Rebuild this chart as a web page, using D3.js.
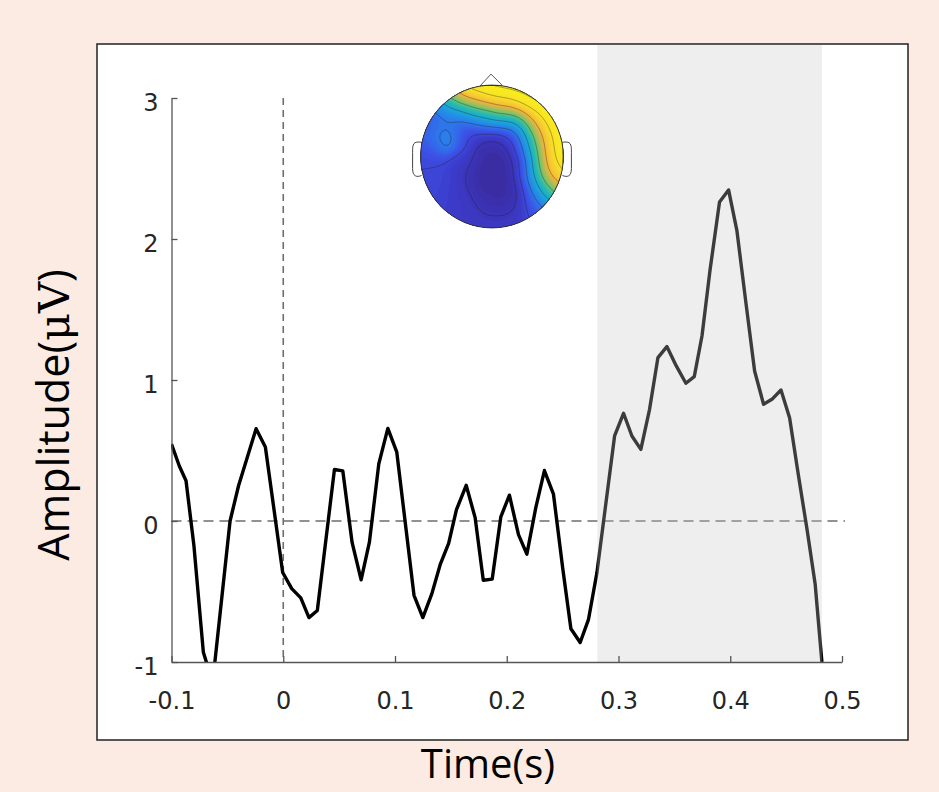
<!DOCTYPE html>
<html>
<head>
  <meta charset="utf-8">
  <title>ERP waveform</title>
  <script src="https://d3js.org/d3.v7.min.js"></script>
  <style>
    body { margin: 0; background: #fcebe3; }
  </style>
</head>
<body>

  <svg width="939" height="792"></svg>

  <script>

    // Waveform (time in s, amplitude in microvolts)
    const times = [
      -0.100, -0.093, -0.087, -0.080, -0.0715, -0.0665, -0.062, -0.0476, -0.040, -0.0243,
      -0.016, -0.0005, 0.0076, 0.0157, 0.023, 0.0305, 0.0458, 0.0533, 0.0616, 0.0697,
      0.0771, 0.0855, 0.0936, 0.1016, 0.117, 0.1249, 0.133, 0.1404, 0.148, 0.155,
      0.1637, 0.1717, 0.179, 0.187, 0.1947, 0.2024, 0.2105, 0.218, 0.226, 0.2337,
      0.2418, 0.250, 0.2574, 0.2657, 0.2731, 0.2807, 0.2965, 0.3045, 0.312, 0.320,
      0.3278, 0.3353, 0.3433, 0.3517, 0.3603, 0.3678, 0.3747, 0.382, 0.3904, 0.3985,
      0.406, 0.414, 0.4218, 0.4298, 0.4373, 0.4454, 0.4531, 0.4611, 0.4687, 0.476,
      0.482
    ];
    const amplitude = [
      0.545, 0.39, 0.285, -0.17, -0.93, -1.06, -1.06, 0.0, 0.25, 0.655,
      0.525, -0.365, -0.48, -0.545, -0.685, -0.635, 0.365, 0.355, -0.152, -0.417,
      -0.15, 0.405, 0.657, 0.488, -0.527, -0.685, -0.515, -0.31, -0.158, 0.08,
      0.253, 0.024, -0.42, -0.412, 0.03, 0.183, -0.097, -0.235, 0.095, 0.358,
      0.19, -0.33, -0.764, -0.862, -0.70, -0.366, 0.603, 0.764, 0.603, 0.508,
      0.792, 1.159, 1.237, 1.10, 0.977, 1.024, 1.312, 1.785, 2.262, 2.348,
      2.057, 1.549, 1.064, 0.828, 0.863, 0.929, 0.733, 0.319, -0.059, -0.449,
      -1.0
    ];

    const xTicks = [-0.1, 0, 0.1, 0.2, 0.3, 0.4, 0.5];
    const xTickLabels = ["-0.1", "0", "0.1", "0.2", "0.3", "0.4", "0.5"];
    const yTicks = [-1, 0, 1, 2, 3];
    const yTickLabels = ["-1", "0", "1", "2", "3"];
    const shadeWindow = [0.281, 0.482];

    // Topography inset: sample points on a unit head (x right, y down) and relative amplitude 0..1
    const elecX = [
      -0.3, 0, 0.3, 0.55, 0.75, 0.9, 0.95, 0.95, 0.05, 0.4, 0.7, 0.82, 0.88,
      -0.45, -0.15, 0.2, 0.55, 0.7, 0.76, 0.85, 0.95,
      -0.6, -0.3, 0, 0.3, 0.55, 0.62, 0.68, 0.78, 0.85,
      -0.75, -0.45, -0.1, 0.25, 0.45, 0.52, 0.58, 0.65, 0.6,
      -0.6, -0.85,
      -0.95, -0.75, -0.85, -0.6,
      -0.35, -0.4, -0.45, -0.3, 0, 0.3,
      0, 0.25, 0.3, 0, -0.15, 0.2, 0, 0.35
    ];
    const elecY = [
      -0.93, -0.97, -0.92, -0.8, -0.6, -0.35, -0.05, 0.2, -0.82, -0.75, -0.4, -0.1, 0.15,
      -0.85, -0.75, -0.66, -0.5, -0.25, 0.05, 0.3, 0.32,
      -0.72, -0.65, -0.6, -0.55, -0.35, -0.1, 0.2, 0.45, 0.5,
      -0.55, -0.55, -0.5, -0.45, -0.25, 0.05, 0.35, 0.6, 0.75,
      -0.28, -0.2,
      0.05, 0.3, 0.5, 0.7,
      -0.3, 0.1, 0.45, 0.8, 0.95, 0.9,
      -0.2, -0.25, 0.1, 0.1, 0.3, 0.45, 0.6, 0.6
    ];
    const elecV = [
      1.0, 1.0, 1.0, 1.0, 1.0, 1.0, 1.0, 1.0, 0.95, 0.95, 0.95, 0.95, 0.92,
      0.8, 0.82, 0.82, 0.8, 0.8, 0.8, 0.8, 0.85,
      0.5, 0.5, 0.55, 0.55, 0.5, 0.5, 0.5, 0.55, 0.5,
      0.2, 0.18, 0.17, 0.17, 0.18, 0.18, 0.2, 0.28, 0.18,
      0.42, 0.24,
      0.16, 0.15, 0.15, 0.12,
      0.1, 0.1, 0.09, 0.09, 0.09, 0.09,
      0.02, 0.03, 0.0, 0.0, 0.0, 0.0, 0.02, 0.03
    ];

    const svg = d3.select("svg");

    // Frame
    svg.append("rect")
      .attr("x", 97).attr("y", 44)
      .attr("width", 811).attr("height", 696)
      .attr("fill", "#fff")
      .attr("stroke", "#222")
      .attr("stroke-width", 1.5);

    // Scales
    const x = d3.scaleLinear().domain([-0.1, 0.5]).range([171.5, 842]);
    const y = d3.scaleLinear().domain([-1, 3]).range([662, 98]);

    svg.append("clipPath").attr("id", "plotclip")
      .append("rect")
      .attr("x", 171).attr("y", 44)
      .attr("width", 680).attr("height", 618);

    // Reference lines
    svg.append("line")
      .attr("x1", x(-0.1)).attr("x2", 845)
      .attr("y1", y(0)).attr("y2", y(0))
      .attr("stroke", "#6e6e6e").attr("stroke-width", 1.6)
      .attr("stroke-dasharray", "10,6");

    svg.append("line")
      .attr("x1", x(0)).attr("x2", x(0))
      .attr("y1", y(3)).attr("y2", y(-1))
      .attr("stroke", "#6e6e6e").attr("stroke-width", 1.6)
      .attr("stroke-dasharray", "7,5");

    // Waveform
    const line = d3.line()
      .x((d, i) => x(times[i]))
      .y(d => y(d));

    svg.append("path")
      .datum(amplitude)
      .attr("clip-path", "url(#plotclip)")
      .attr("fill", "none")
      .attr("stroke", "#000")
      .attr("stroke-width", 3.4)
      .attr("stroke-linejoin", "round")
      .attr("d", line);

    // Shaded analysis window, translucent, drawn over the trace
    svg.append("rect")
      .attr("x", x(shadeWindow[0]))
      .attr("y", 45)
      .attr("width", x(shadeWindow[1]) - x(shadeWindow[0]))
      .attr("height", y(-1) - 45)
      .attr("fill", "#c8c8c8")
      .attr("fill-opacity", 0.3);

    // Axes
    const xAxis = d3.axisBottom(x)
      .tickValues(xTicks)
      .tickFormat((d, i) => xTickLabels[i])
      .tickSizeInner(-6)
      .tickSizeOuter(0)
      .tickPadding(30);

    const yAxis = d3.axisLeft(y)
      .tickValues(yTicks)
      .tickFormat((d, i) => yTickLabels[i])
      .tickSizeInner(-6)
      .tickSizeOuter(0)
      .tickPadding(13);

    const gx = svg.append("g")
      .attr("transform", `translate(0,${y(-1)})`)
      .call(xAxis);
    const gy = svg.append("g")
      .attr("transform", `translate(${x(-0.1)},0)`)
      .call(yAxis);

    [gx, gy].forEach(g => {
      g.select(".domain").attr("stroke", "#555").attr("stroke-width", 1.3);
      g.selectAll(".tick line").attr("stroke", "#555").attr("stroke-width", 1.3);
      g.selectAll(".tick text")
        .attr("fill", "#262626")
        .style("font-family", "'DejaVu Sans'")
        .style("font-size", "24px");
    });
    gy.selectAll(".tick text").attr("dy", "0.5em");

    // Axis titles
    const ylab = svg.append("text")
      .attr("transform", "translate(69,415) rotate(-90)")
      .attr("text-anchor", "middle")
      .attr("fill", "#000")
      .style("font-family", "'Open Sans'")
      .style("font-size", "43px");
    ylab.append("tspan").text("Amplitude(");
    ylab.append("tspan").style("font-family", "'DejaVu Serif'").text("\u03bcV");
    ylab.append("tspan").text(")");

    svg.append("text")
      .attr("x", 488).attr("y", 778)
      .attr("text-anchor", "middle")
      .attr("fill", "#000")
      .style("font-family", "'Open Sans'")
      .style("font-size", "40px")
      .text("Time(s)");

    // Topography inset
    const cx = 492, cy = 156.5, r = 71.4;
    const head = svg.append("g");

    // nose and ears
    head.append("path")
      .attr("d", `M${cx - 13},${cy - r + 2} L${cx - 1},${cy - r - 11} L${cx + 12},${cy - r + 2}`)
      .attr("fill", "#fff").attr("stroke", "#555").attr("stroke-width", 1);
    [-1, 1].forEach(s => {
      const ex = cx + s * r;
      head.append("path")
        .attr("d", `M${ex - s * 2},${cy - 14} C${ex + s * 8},${cy - 16} ${ex + s * 8},${cy - 12} ${ex + s * 8},${cy - 4}
                    L${ex + s * 8},${cy + 12} C${ex + s * 8},${cy + 20} ${ex + s * 4},${cy + 21} ${ex - s * 1},${cy + 19}`)
        .attr("fill", "#fff").attr("stroke", "#444").attr("stroke-width", 1);
    });

    // gridded field from the sample points (gaussian-weighted average)
    const n = 90, sigma = 0.16;
    const grid = new Array(n * n);
    for (let j = 0; j < n; j++) {
      for (let i = 0; i < n; i++) {
        const px = (i + 0.5) / n * 2 - 1;
        const py = (j + 0.5) / n * 2 - 1;
        let wsum = 0, vsum = 0;
        for (let k = 0; k < elecV.length; k++) {
          const d2 = (px - elecX[k]) ** 2 + (py - elecY[k]) ** 2;
          const w = Math.exp(-d2 / (2 * sigma * sigma)) + 1e-12;
          wsum += w; vsum += w * elecV[k];
        }
        grid[j * n + i] = vsum / wsum;
      }
    }

    const parula = d3.scaleLinear()
      .domain([0, 0.1, 0.2, 0.3, 0.42, 0.52, 0.62, 0.74, 0.86, 1])
      .range(["#3a2b9f", "#3c39c6", "#3d50e6", "#2c79ec", "#1ca3dc", "#22b9b6", "#72c46c", "#f2b33c", "#f8df28", "#faf514"])
      .clamp(true);

    svg.append("clipPath").attr("id", "headclip")
      .append("circle").attr("cx", cx).attr("cy", cy).attr("r", r);

    const proj = d3.geoPath(d3.geoIdentity().scale(2 * r / n).translate([cx - r, cy - r]));
    const fillLevels = d3.range(0, 1.001, 0.02);
    const lineLevels = [0.07, 0.16, 0.3, 0.45, 0.6, 0.75, 0.87, 0.95];

    const field = head.append("g").attr("clip-path", "url(#headclip)");
    field.append("circle").attr("cx", cx).attr("cy", cy).attr("r", r).attr("fill", parula(0));
    field.selectAll("path.band")
      .data(d3.contours().size([n, n]).thresholds(fillLevels)(grid))
      .join("path")
      .attr("class", "band")
      .attr("d", proj)
      .attr("fill", d => parula(d.value + 0.01));
    field.selectAll("path.iso")
      .data(d3.contours().size([n, n]).thresholds(lineLevels)(grid))
      .join("path")
      .attr("class", "iso")
      .attr("d", proj)
      .attr("fill", "none")
      .attr("stroke", "#222")
      .attr("stroke-opacity", 0.6)
      .attr("stroke-width", 0.6);

    head.append("circle")
      .attr("cx", cx).attr("cy", cy).attr("r", r)
      .attr("fill", "none").attr("stroke", "#333").attr("stroke-width", 1);

  </script>

</body>
</html>
